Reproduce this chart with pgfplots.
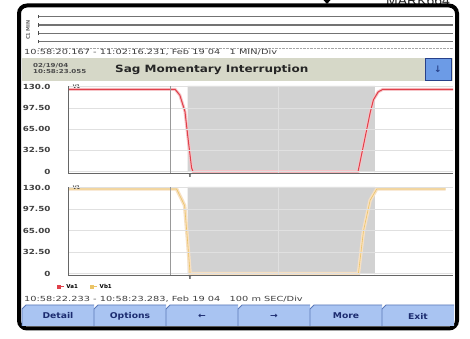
\documentclass[border=0pt]{standalone}
\usepackage{graphicx}
\usepackage{fontspec}
\setmainfont{DejaVu Sans}
\newfontfamily\arialf{Liberation Sans}
\usepackage{pgfplots}
\usepackage{pgfplotstable}
\pgfplotsset{compat=1.18}

\definecolor{titlebar}{HTML}{D6D8C8}
\definecolor{shade}{HTML}{D2D2D2}
\definecolor{gridc}{HTML}{E0E0E0}
\definecolor{vred}{HTML}{E0404A}
\definecolor{vpink}{HTML}{F6C4C8}
\definecolor{peach}{HTML}{F7E0C2}
\definecolor{vyel}{HTML}{EBC466}
\definecolor{btn}{HTML}{A9C4F2}
\definecolor{btnline}{HTML}{5A78B8}
\definecolor{btntext}{HTML}{1C2C70}
\definecolor{bluebtn}{HTML}{6C9BE6}
\definecolor{bluedark}{HTML}{27418A}

\newcommand\wide[2][1.4]{\scalebox{#1}[1]{#2}}

% time in ms (100 ms/div), voltage
\pgfplotstableread{
x y
0 126
292 126
305 117
319 92
328 48
337 6
341 0
791 0
805 38
824 90
833 110
846 122
859 126
1050 126
}\vaone

\pgfplotstableread{
x y
0 128
296 128
305 118
318 103
326 50
333 0
792 0
806 65
824 111
842 128
1030 128
}\vbone

\pgfplotstableread{
x y
326 -2
326 131
837 131
837 -2
}\sagwin

\pgfplotsset{
  scope/.style={
    scale only axis, width=385pt,
    xmin=0, xmax=1050, ymin=-2, ymax=131,
    axis on top, clip=false,
    axis x line*=bottom, axis y line*=left,
    axis line style={-, draw=black!60, line width=0.9pt},
    major tick length=0pt,
    xtick={573}, xticklabels={},
    xmajorgrids, ymajorgrids,
    grid style={gridc, line width=0.7pt},
    extra x ticks={278}, extra x tick labels={},
    extra x tick style={major grid style={black!40, line width=0.5pt}},
    ytick={0,32.5,65,97.5,130},
    yticklabels={\wide[1.25]{0},\wide[1.25]{32.50},\wide[1.25]{65.00},\wide[1.25]{97.50},\wide[1.25]{130.0}},
    yticklabel style={font=\fontsize{7}{7}\selectfont\bfseries, text=black!75, xshift=-14pt},
  }
}

\begin{document}
\begin{tikzpicture}[x=1pt,y=1pt]
\path[use as bounding box, fill=white] (0,0) rectangle (470,339);

\begin{scope}
\clip (0,0) rectangle (470,339);
\node[anchor=base west, inner sep=0pt, font=\arialf\fontsize{14}{14}\selectfont, text=black!85] at (386,333.5) {MARK664};
\end{scope}
\fill[black] (323.5,339) -- (330.5,339) -- (327,335) -- cycle;

% frame
\draw[black, line width=4pt, rounded corners=8pt] (19,10.5) rectangle (457,333.5);

% overview strip
\foreach \y in {322.3,314,305.7,297.3} {
  \draw[black!55, line width=1.2pt] (38,\y) -- (453,\y);
  \draw[black!70, line width=0.7pt] (38,\y-1.8) -- (38,\y+1.8);
}
\draw[black!35, densely dotted] (38,291) -- (453,291);
\node[rotate=90, font=\fontsize{5}{5}\selectfont\bfseries, text=black!60] at (28,309) {C1 MIN};
\node[anchor=west, inner sep=0pt, font=\fontsize{7}{8}\selectfont, text=black!75] at (24,286.5)
  {\wide{10:58:20.167 - 11:02:16.231, Feb 19 04 \ \ 1 MIN/Div}};

% title bar
\fill[titlebar] (22,258) rectangle (453,281);
\node[anchor=north west, align=left, inner sep=0pt, font=\fontsize{5.5}{6.5}\selectfont\bfseries, text=black!70] at (33,276)
  {\wide[1.3]{02/19/04}\\\wide[1.3]{10:58:23.055}};
\node[anchor=west, inner sep=0pt, font=\fontsize{10}{12}\selectfont\bfseries, text=black!85] at (115,269)
  {\wide[1.2]{Sag Momentary Interruption}};
\fill[bluebtn] (425,259) rectangle (451,281);
\draw[bluedark, line width=0.6pt] (425,259) rectangle (451,281);
\node[text=bluedark, font=\bfseries\fontsize{9}{9}\selectfont] at (438,270) {↓};

% upper channel
\begin{axis}[scope, at={(68pt,166pt)}, height=87pt]
\addplot[fill=shade, draw=none, forget plot] table {\sagwin} \closedcycle;
\addplot[vpink, line width=3pt, forget plot] table {\vaone};
\addplot[vred, line width=1pt, forget plot] table {\vaone};
\node[anchor=north west, inner sep=0pt, font=\fontsize{5}{5}\selectfont\bfseries, text=black!70] at (rel axis cs:0.012,1.01) {V1};
\node[anchor=north, inner sep=0pt, font=\fontsize{5}{5}\selectfont\bfseries] at (axis cs:333,-3) {T};
\end{axis}

% lower channel
\begin{axis}[scope, at={(68pt,64pt)}, height=88pt,
  legend columns=2,
  legend style={at={(-0.03,-0.135)}, anchor=west, draw=none, fill=none, inner sep=0pt,
    font=\fontsize{5.5}{6}\selectfont\bfseries,
    /tikz/every even column/.append style={column sep=10pt}},
  legend image code/.code={\draw[#1] (0pt,0pt) -- (7pt,0pt); \fill[#1] (0.5pt,-1.5pt) rectangle (3.5pt,1.5pt);}]
\addlegendimage{vred, line width=0.8pt}
\addlegendimage{vyel, line width=0.8pt}
\addplot[fill=shade, draw=none, forget plot] table {\sagwin} \closedcycle;
\addplot[peach, line width=3.5pt, forget plot] table {\vbone};
\addplot[vyel, line width=0.6pt, forget plot] table {\vbone};
\node[anchor=north west, inner sep=0pt, font=\fontsize{5}{5}\selectfont\bfseries, text=black!70] at (rel axis cs:0.012,1.01) {V1};
\node[anchor=north, inner sep=0pt, font=\fontsize{5}{5}\selectfont\bfseries] at (axis cs:333,-3) {T};
\legend{Va1,Vb1}
\end{axis}

% time axis readout
\node[anchor=west, inner sep=0pt, font=\fontsize{7}{8}\selectfont, text=black!75] at (24,40)
  {\wide{10:58:22.233 - 10:58:23.283, Feb 19 04 \ \ 100 m SEC/Div}};

% soft keys
\foreach \i/\lab in {0/Detail,1/Options,2/←,3/→,4/More,5/Exit} {
  \pgfmathsetmacro\xa{22+72*\i}
  \pgfmathsetmacro\xb{\xa+72}
  \fill[btn] (\xa,13) -- (\xa,30) -- (\xa+4,34) -- (\xb,34) -- (\xb,13) -- cycle;
  \draw[btnline, line width=0.8pt] (\xa,13) -- (\xa,30) -- (\xa+4,34) -- (\xb,34);
  \node[font=\fontsize{8}{8}\selectfont\bfseries, text=btntext] at (\xa+36,23) {\wide[1.15]{\lab}};
}
\end{tikzpicture}
\end{document}
